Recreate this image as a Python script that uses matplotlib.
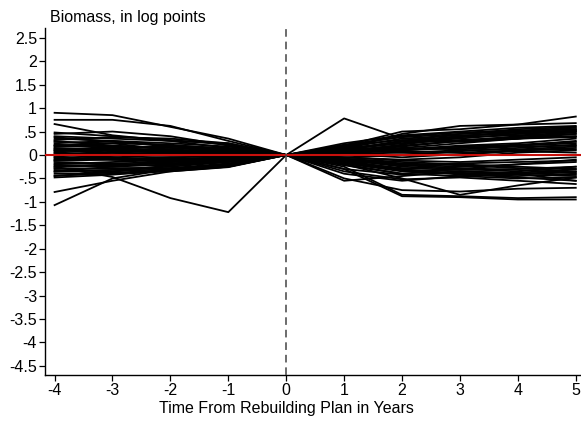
import numpy as np
import matplotlib
matplotlib.use("Agg")
import matplotlib.pyplot as plt
from matplotlib.ticker import FuncFormatter

plt.rcParams["font.family"] = ["Liberation Sans", "DejaVu Sans"]

# event time relative to the rebuilding plan
years = [-4, -3, -2, -1, 0, 1, 2, 3, 4, 5]

# log biomass paths, one row per stock, normalised to 0 at the plan year
stock_paths = [
    [0.90, 0.85, 0.60, 0.35, 0, -0.10, -0.25, -0.30, -0.20, -0.15],
    [0.75, 0.75, 0.62, 0.30, 0, 0.10, 0.20, 0.30, 0.35, 0.45],
    [0.66, 0.42, 0.30, 0.25, 0, 0.15, 0.25, 0.40, 0.50, 0.55],
    [0.45, 0.50, 0.40, 0.20, 0, 0.05, 0.10, 0.15, 0.20, 0.30],
    [-1.07, -0.50, -0.30, -0.20, 0, -0.20, -0.40, -0.30, -0.35, -0.25],
    [-0.79, -0.55, -0.35, -0.25, 0, 0.10, 0.05, 0.00, 0.10, 0.15],
    [-0.25, -0.47, -0.92, -1.22, 0, 0.78, 0.35, 0.30, 0.35, 0.40],
    [0.10, 0.05, 0.00, -0.05, 0, -0.30, -0.88, -0.90, -0.95, -0.95],
    [0.00, -0.05, -0.10, -0.10, 0, -0.25, -0.85, -0.88, -0.92, -0.90],
    [-0.20, -0.15, -0.10, -0.05, 0, -0.20, -0.50, -0.85, -0.65, -0.48],
    [0.20, 0.15, 0.10, 0.05, 0, -0.55, -0.45, -0.35, -0.40, -0.55],
    [0.30, 0.20, 0.15, 0.10, 0, -0.50, -0.75, -0.78, -0.72, -0.70],
    [-0.10, -0.05, 0.00, 0.05, 0, 0.15, 0.45, 0.62, 0.65, 0.82],
    [0.15, 0.10, 0.05, 0.05, 0, 0.20, 0.50, 0.55, 0.65, 0.68],
    [0.40, 0.35, 0.30, 0.15, 0, 0.10, 0.30, 0.45, 0.55, 0.60],
    [0.35, 0.30, 0.20, 0.10, 0, 0.05, 0.15, 0.25, 0.35, 0.50],
    [0.28, 0.25, 0.22, 0.12, 0, -0.05, -0.10, -0.05, 0.05, 0.10],
    [0.25, 0.30, 0.25, 0.18, 0, 0.08, 0.18, 0.30, 0.40, 0.45],
    [0.22, 0.18, 0.15, 0.08, 0, 0.12, 0.28, 0.35, 0.45, 0.52],
    [0.18, 0.20, 0.12, 0.06, 0, -0.08, -0.15, -0.20, -0.25, -0.30],
    [0.14, 0.12, 0.10, 0.05, 0, 0.05, 0.12, 0.20, 0.25, 0.35],
    [0.12, 0.08, 0.06, 0.04, 0, -0.10, -0.20, -0.25, -0.20, -0.10],
    [0.08, 0.10, 0.08, 0.03, 0, 0.06, 0.10, 0.18, 0.22, 0.28],
    [0.05, 0.02, 0.04, 0.02, 0, -0.05, -0.12, -0.15, -0.10, -0.05],
    [0.02, 0.05, 0.03, 0.01, 0, 0.08, 0.22, 0.38, 0.42, 0.48],
    [-0.02, 0.00, -0.02, -0.01, 0, -0.12, -0.30, -0.42, -0.45, -0.40],
    [-0.05, -0.08, -0.05, -0.03, 0, 0.10, 0.15, 0.12, 0.18, 0.20],
    [-0.08, -0.10, -0.08, -0.05, 0, -0.15, -0.28, -0.32, -0.30, -0.25],
    [-0.12, -0.10, -0.12, -0.06, 0, 0.05, 0.08, 0.05, 0.10, 0.12],
    [-0.15, -0.18, -0.15, -0.08, 0, -0.08, -0.18, -0.22, -0.28, -0.35],
    [-0.18, -0.20, -0.18, -0.10, 0, 0.12, 0.25, 0.32, 0.38, 0.40],
    [-0.22, -0.25, -0.20, -0.12, 0, -0.18, -0.35, -0.40, -0.48, -0.55],
    [-0.25, -0.22, -0.22, -0.14, 0, 0.02, 0.05, 0.10, 0.12, 0.18],
    [-0.28, -0.30, -0.25, -0.15, 0, -0.22, -0.40, -0.45, -0.40, -0.35],
    [-0.30, -0.28, -0.28, -0.18, 0, 0.15, 0.35, 0.42, 0.45, 0.50],
    [-0.33, -0.35, -0.30, -0.20, 0, -0.10, -0.22, -0.28, -0.32, -0.38],
    [-0.36, -0.32, -0.28, -0.22, 0, -0.30, -0.42, -0.38, -0.42, -0.45],
    [-0.40, -0.38, -0.32, -0.24, 0, 0.05, 0.12, 0.15, 0.20, 0.25],
    [-0.44, -0.40, -0.35, -0.26, 0, -0.15, -0.32, -0.35, -0.38, -0.42],
    [-0.48, -0.42, -0.33, -0.25, 0, 0.18, 0.40, 0.48, 0.52, 0.58],
    [0.48, 0.40, 0.32, 0.22, 0, -0.12, -0.22, -0.18, -0.15, -0.12],
    [0.32, 0.38, 0.35, 0.25, 0, 0.22, 0.38, 0.45, 0.50, 0.55],
    [0.10, 0.15, 0.18, 0.12, 0, -0.18, -0.32, -0.40, -0.38, -0.30],
    [-0.35, -0.25, -0.15, -0.05, 0, 0.25, 0.42, 0.50, 0.58, 0.62],
    [0.20, 0.25, 0.10, 0.08, 0, -0.35, -0.52, -0.48, -0.55, -0.62],
    [-0.05, 0.12, 0.20, 0.15, 0, 0.02, -0.05, 0.02, 0.08, 0.05],
    [0.38, 0.28, 0.18, 0.12, 0, 0.12, 0.30, 0.40, 0.48, 0.52],
    [-0.45, -0.35, -0.22, -0.15, 0, -0.05, 0.00, 0.08, 0.15, 0.22],
    [0.05, -0.10, -0.15, -0.10, 0, -0.40, -0.55, -0.45, -0.50, -0.48],
    [-0.12, -0.02, 0.08, 0.10, 0, 0.20, 0.32, 0.28, 0.35, 0.38],
]

y_ticks = [2.5, 2, 1.5, 1, 0.5, 0, -0.5, -1, -1.5, -2, -2.5, -3, -3.5, -4, -4.5]


def stata_label(v, pos=None):
    s = f"{v:g}"
    return s.replace("0.", ".")


fig = plt.figure(figsize=(5.81, 4.24), dpi=100)
ax = fig.add_axes([0.077, 0.115, 0.923, 0.819])

for path in stock_paths:
    ax.plot(years, path, color="black", linewidth=1.3, zorder=2)

ax.axhline(0, color="#c8100c", linewidth=1.5, zorder=3)
ax.axvline(0, color="#444444", linewidth=1.1, dashes=(5, 3.2), zorder=4)

ax.set_xlim(-4.17, 5.09)
ax.set_ylim(-4.70, 2.71)
ax.set_xticks(years)
ax.set_yticks(y_ticks)
ax.yaxis.set_major_formatter(FuncFormatter(stata_label))
ax.xaxis.set_major_formatter(FuncFormatter(stata_label))

for side in ("top", "right"):
    ax.spines[side].set_visible(False)
for side in ("left", "bottom"):
    ax.spines[side].set_linewidth(1.0)
ax.tick_params(direction="out", length=4, width=0.9, labelsize=11.5, pad=1.5)

# axis title sits under the zero line of the event window
fig.text(286 / 581, 1 - 409 / 424, "Time From Rebuilding Plan in Years",
         fontsize=11.5, ha="center", va="center")
fig.text(0.086, 0.958, "Biomass, in log points", fontsize=11.5, ha="left", va="center")

fig.savefig("out.png", dpi=100)
